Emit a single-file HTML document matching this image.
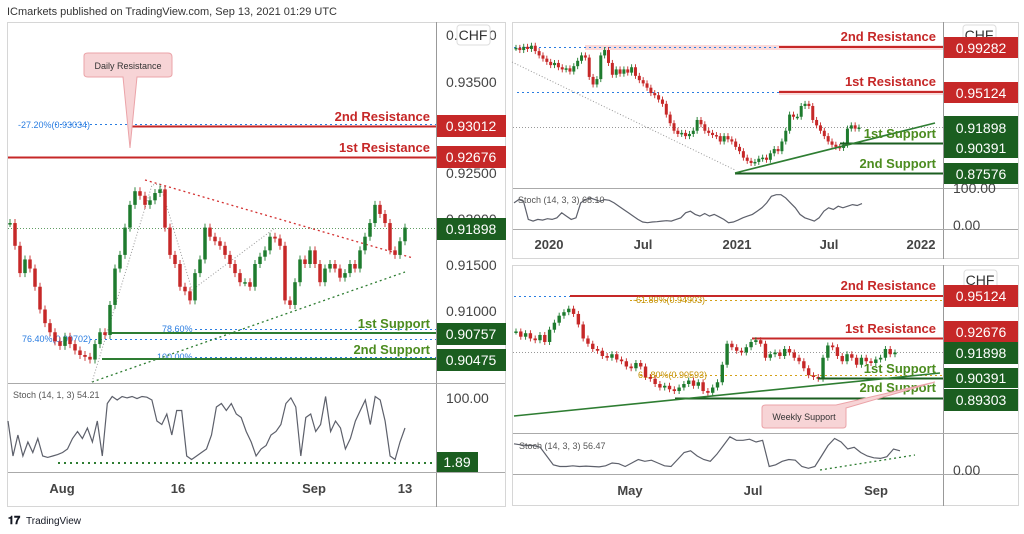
<!DOCTYPE html>
<html><head><meta charset="utf-8"><style>
html,body{margin:0;padding:0;background:#fff;width:1024px;height:534px;overflow:hidden}
svg{display:block;font-family:"Liberation Sans",sans-serif}
</style></head><body>
<svg id="c" width="1024" height="534" viewBox="0 0 1024 534">
<text x="7" y="15" font-size="11" fill="#333">ICmarkets published on TradingView.com, Sep 13, 2021 01:29 UTC</text>

<!-- LEFT PANEL -->
<g>
<rect x="7.5" y="22.5" width="498" height="484" fill="#fff" stroke="#d6d6d6"/>
<line x1="436.5" y1="22" x2="436.5" y2="507" stroke="#999"/>
<line x1="8" y1="383.5" x2="505" y2="383.5" stroke="#aaa"/>
<line x1="8" y1="472.5" x2="505" y2="472.5" stroke="#aaa"/>
<g font-size="14" fill="#444">
<text x="446" y="40">0.94000</text><text x="446" y="87">0.93500</text><text x="446" y="178">0.92500</text><text x="446" y="224">0.92000</text><text x="446" y="270">0.91500</text><text x="446" y="316">0.91000</text><text x="446" y="403">100.00</text>
</g>
<rect x="457" y="25" width="33" height="20" rx="3" fill="#fff" stroke="#ddd"/>
<text x="473" y="40" font-size="14" fill="#333" text-anchor="middle">CHF</text>
<line x1="55" y1="124.5" x2="436" y2="124.5" stroke="#2a7de1" stroke-dasharray="2,3"/>
<text x="18" y="128" font-size="9" fill="#2a7de1">-27.20%(0.93034)</text>
<line x1="128" y1="126.5" x2="436" y2="126.5" stroke="#c62828" stroke-width="2"/>
<line x1="8" y1="157.5" x2="436" y2="157.5" stroke="#c62828" stroke-width="2"/>
<text x="430" y="121" font-size="13" font-weight="bold" fill="#c62828" text-anchor="end">2nd Resistance</text>
<text x="430" y="152" font-size="13" font-weight="bold" fill="#c62828" text-anchor="end">1st Resistance</text>
<path d="M84,56 Q84,53 88,53 L168,53 Q172,53 172,57 L172,74 Q172,77 168,77 L137,77 L130,148 L123,77 L88,77 Q84,77 84,74 Z" fill="#f7d4d6" stroke="#eba3a8"/>
<text x="128" y="69" font-size="9" fill="#333" text-anchor="middle">Daily Resistance</text>
<line x1="8" y1="228.5" x2="436" y2="228.5" stroke="#2e7d32" stroke-dasharray="1,2" stroke-width="0.8"/>
<line x1="195" y1="329.5" x2="436" y2="329.5" stroke="#2a7de1" stroke-dasharray="2,3"/>
<text x="162" y="332" font-size="9" fill="#2a7de1">78.60%</text>
<line x1="90" y1="339.5" x2="436" y2="339.5" stroke="#2a7de1" stroke-dasharray="2,3"/>
<text x="22" y="342" font-size="9" fill="#2a7de1">76.40%(0.90702)</text>
<line x1="195" y1="357.5" x2="436" y2="357.5" stroke="#2a7de1" stroke-dasharray="2,3"/>
<text x="157" y="360" font-size="9" fill="#2a7de1">100.00%</text>
<line x1="111" y1="333" x2="436" y2="333" stroke="#2e7d32" stroke-width="2"/>
<line x1="102" y1="359" x2="436" y2="359" stroke="#2e7d32" stroke-width="2"/>
<text x="430" y="328" font-size="13" font-weight="bold" fill="#4c8c1f" text-anchor="end">1st Support</text>
<text x="430" y="354" font-size="13" font-weight="bold" fill="#4c8c1f" text-anchor="end">2nd Support</text>
<line x1="145" y1="180" x2="413" y2="258" stroke="#d32f2f" stroke-dasharray="2,3" stroke-width="1.3"/>
<line x1="92" y1="382" x2="405" y2="272" stroke="#2e7d32" stroke-dasharray="2,3" stroke-width="1.3"/>
<polyline points="92,382 152,185 160,184 192,290 275,228" fill="none" stroke="#999" stroke-dasharray="1,2"/>
<g id="lc"></g>
<line x1="58" y1="463" x2="436" y2="463" stroke="#2e7d32" stroke-dasharray="2,4" stroke-width="2"/>
<path id="ls" fill="none" stroke="#5d606b" stroke-width="1.2"/>
<text x="13" y="398" font-size="9" fill="#555">Stoch (14, 1, 3)  54.21</text>
<g font-size="14" fill="#fff">
<rect x="437" y="115" width="69" height="22" fill="#c62828"/><text x="471" y="131" text-anchor="middle">0.93012</text>
<rect x="437" y="146" width="69" height="22" fill="#c62828"/><text x="471" y="162" text-anchor="middle">0.92676</text>
<rect x="437" y="218" width="69" height="22" fill="#1b5e20"/><text x="471" y="234" text-anchor="middle">0.91898</text>
<rect x="437" y="323" width="69" height="22" fill="#1b5e20"/><text x="471" y="339" text-anchor="middle">0.90757</text>
<rect x="437" y="349" width="69" height="22" fill="#1b5e20"/><text x="471" y="365" text-anchor="middle">0.90475</text>
<rect x="437" y="452" width="41" height="20" fill="#1b5e20"/><text x="457" y="467" text-anchor="middle">1.89</text>
</g>
<g font-size="13" font-weight="bold" fill="#444" text-anchor="middle">
<text x="62" y="493">Aug</text><text x="178" y="493">16</text><text x="314" y="493">Sep</text><text x="405" y="493">13</text>
</g>
</g>

<!-- RIGHT TOP PANEL -->
<g>
<rect x="512.5" y="22.5" width="506" height="236" fill="#fff" stroke="#d6d6d6"/>
<line x1="943.5" y1="22" x2="943.5" y2="259" stroke="#999"/>
<line x1="513" y1="188.5" x2="1018" y2="188.5" stroke="#aaa"/>
<line x1="513" y1="229.5" x2="1018" y2="229.5" stroke="#aaa"/>
<g font-size="14" fill="#444"><text x="953" y="193">100.00</text><text x="953" y="230">0.00</text></g>
<rect x="963" y="25" width="33" height="20" rx="3" fill="#fff" stroke="#ddd"/>
<text x="979" y="40" font-size="14" fill="#333" text-anchor="middle">CHF</text>
<rect x="585" y="45" width="358" height="5" fill="#fbdada"/>
<line x1="514" y1="47.5" x2="779" y2="47.5" stroke="#2a7de1" stroke-dasharray="2,3"/>
<line x1="779" y1="47" x2="943" y2="47" stroke="#c62828" stroke-width="2"/>
<rect x="779" y="90" width="164" height="5" fill="#fbdada"/>
<line x1="517" y1="92.5" x2="779" y2="92.5" stroke="#2a7de1" stroke-dasharray="2,3"/>
<line x1="779" y1="92" x2="943" y2="92" stroke="#c62828" stroke-width="2"/>
<line x1="513" y1="127.5" x2="943" y2="127.5" stroke="#777" stroke-dasharray="1,2" stroke-width="0.7"/>
<line x1="512" y1="62" x2="735" y2="170" stroke="#999" stroke-dasharray="1,2"/>
<g id="wc"></g>
<line x1="840" y1="143.5" x2="943" y2="143.5" stroke="#1b5e20" stroke-width="2"/>
<line x1="735" y1="173.5" x2="943" y2="173.5" stroke="#1b5e20" stroke-width="2"/>
<line x1="735" y1="173" x2="935" y2="123" stroke="#2e7d32" stroke-width="1.6"/>
<text x="936" y="41" font-size="13" font-weight="bold" fill="#c62828" text-anchor="end">2nd Resistance</text>
<text x="936" y="86" font-size="13" font-weight="bold" fill="#c62828" text-anchor="end">1st Resistance</text>
<text x="936" y="138" font-size="13" font-weight="bold" fill="#4c8c1f" text-anchor="end">1st Support</text>
<text x="936" y="168" font-size="13" font-weight="bold" fill="#4c8c1f" text-anchor="end">2nd Support</text>
<path id="ws" fill="none" stroke="#5d606b" stroke-width="1.2"/>
<text x="518" y="203" font-size="9" fill="#555">Stoch (14, 3, 3)  68.10</text>
<g font-size="14" fill="#fff">
<rect x="944" y="37" width="74" height="21" fill="#c62828"/><text x="981" y="53" text-anchor="middle">0.99282</text>
<rect x="944" y="82" width="74" height="21" fill="#c62828"/><text x="981" y="98" text-anchor="middle">0.95124</text>
<rect x="944" y="116" width="74" height="42" fill="#1b5e20"/><text x="981" y="133" text-anchor="middle">0.91898</text><text x="981" y="153" text-anchor="middle">0.90391</text>
<rect x="944" y="163" width="74" height="21" fill="#1b5e20"/><text x="981" y="179" text-anchor="middle">0.87576</text>
</g>
<g font-size="13" font-weight="bold" fill="#444" text-anchor="middle">
<text x="549" y="249">2020</text><text x="643" y="249">Jul</text><text x="737" y="249">2021</text><text x="829" y="249">Jul</text><text x="921" y="249">2022</text>
</g>
</g>

<!-- RIGHT BOTTOM PANEL -->
<g>
<rect x="512.5" y="265.5" width="506" height="240" fill="#fff" stroke="#d6d6d6"/>
<line x1="943.5" y1="265" x2="943.5" y2="506" stroke="#999"/>
<line x1="513" y1="433.5" x2="1018" y2="433.5" stroke="#aaa"/>
<line x1="513" y1="474.5" x2="1018" y2="474.5" stroke="#aaa"/>
<text x="953" y="475" font-size="14" fill="#444">0.00</text>
<rect x="964" y="270" width="33" height="20" rx="3" fill="#fff" stroke="#ddd"/>
<text x="980" y="285" font-size="14" fill="#333" text-anchor="middle">CHF</text>
<line x1="514" y1="296.5" x2="570" y2="296.5" stroke="#2a7de1" stroke-dasharray="2,3"/>
<line x1="570" y1="296" x2="943" y2="296" stroke="#c62828" stroke-width="2"/>
<line x1="630" y1="300.5" x2="943" y2="300.5" stroke="#d4a017" stroke-dasharray="2,3"/>
<text x="633" y="303" font-size="9" fill="#c49000">-61.80%(0.94903)</text>
<line x1="752" y1="338.5" x2="943" y2="338.5" stroke="#c62828" stroke-width="2"/>
<line x1="513" y1="352.5" x2="943" y2="352.5" stroke="#777" stroke-dasharray="1,2" stroke-width="0.7"/>
<line x1="640" y1="375.5" x2="943" y2="375.5" stroke="#d4a017" stroke-dasharray="2,3"/>
<text x="638" y="378" font-size="9" fill="#c49000">61.80%(0.90593)</text>
<g id="dc"></g>
<line x1="818" y1="378.5" x2="943" y2="378.5" stroke="#1b5e20" stroke-width="2"/>
<line x1="675" y1="398.5" x2="943" y2="398.5" stroke="#1b5e20" stroke-width="2"/>
<line x1="514" y1="416" x2="940" y2="373" stroke="#2e7d32" stroke-width="1.6"/>
<text x="936" y="290" font-size="13" font-weight="bold" fill="#c62828" text-anchor="end">2nd Resistance</text>
<text x="936" y="333" font-size="13" font-weight="bold" fill="#c62828" text-anchor="end">1st Resistance</text>
<text x="936" y="373" font-size="13" font-weight="bold" fill="#4c8c1f" text-anchor="end">1st Support</text>
<text x="936" y="392" font-size="13" font-weight="bold" fill="#4c8c1f" text-anchor="end">2nd Support</text>
<path d="M766,405 L836,405 L935,382 L846,408 L846,425 Q846,428 843,428 L765,428 Q762,428 762,425 L762,408 Q762,405 766,405 Z" fill="#f7d4d6" stroke="#eba3a8"/>
<text x="804" y="420" font-size="9" fill="#333" text-anchor="middle">Weekly Support</text>
<line x1="820" y1="470" x2="915" y2="455" stroke="#2e7d32" stroke-dasharray="2,3" stroke-width="1.3"/>
<path id="ds" fill="none" stroke="#5d606b" stroke-width="1.2"/>
<text x="519" y="449" font-size="9" fill="#555">Stoch (14, 3, 3)  56.47</text>
<g font-size="14" fill="#fff">
<rect x="944" y="285" width="74" height="22" fill="#c62828"/><text x="981" y="301" text-anchor="middle">0.95124</text>
<rect x="944" y="321" width="74" height="21" fill="#c62828"/><text x="981" y="337" text-anchor="middle">0.92676</text>
<rect x="944" y="342" width="74" height="22" fill="#1b5e20"/><text x="981" y="358" text-anchor="middle">0.91898</text>
<rect x="944" y="368" width="74" height="20" fill="#1b5e20"/><text x="981" y="383" text-anchor="middle">0.90391</text>
<rect x="944" y="389" width="74" height="22" fill="#1b5e20"/><text x="981" y="405" text-anchor="middle">0.89303</text>
</g>
<g font-size="13" font-weight="bold" fill="#444" text-anchor="middle">
<text x="630" y="495">May</text><text x="753" y="495">Jul</text><text x="876" y="495">Sep</text>
</g>
</g>

<g>
<text x="8" y="524" font-size="11" font-weight="bold" fill="#131722">𝟏𝟕</text>
<text x="26" y="524" font-size="10" fill="#131722">TradingView</text>
</g>
</svg>
<script>
const leftCloses=[0.9195,0.917,0.914,0.9155,0.9145,0.9125,0.91,0.9085,0.9075,0.9065,0.906,0.907,0.9062,0.9055,0.905,0.9048,0.9045,0.9062,0.9075,0.9072,0.9105,0.9145,0.916,0.919,0.9215,0.923,0.9225,0.9215,0.922,0.9228,0.9232,0.919,0.916,0.915,0.9125,0.912,0.911,0.914,0.9155,0.919,0.918,0.9175,0.917,0.916,0.915,0.914,0.913,0.913,0.9125,0.915,0.9158,0.9165,0.918,0.9178,0.917,0.911,0.9105,0.913,0.9155,0.915,0.9165,0.915,0.913,0.9145,0.915,0.9145,0.9135,0.914,0.915,0.9145,0.9165,0.918,0.9195,0.9215,0.9205,0.9195,0.9165,0.916,0.9175,0.919];
const leftStoch=[60,10,40,10,30,15,35,10,8,10,12,15,20,35,45,35,50,30,60,10,85,95,90,95,93,95,92,95,94,90,60,55,70,40,75,75,10,5,10,15,20,40,80,85,75,85,70,65,45,30,10,20,25,40,45,55,85,93,80,10,65,70,45,55,95,45,60,50,20,35,60,75,90,55,95,90,60,10,5,30,50];
const weeklyCloses=[0.992,0.99,0.993,0.991,0.994,0.989,0.985,0.982,0.979,0.976,0.978,0.974,0.972,0.973,0.97,0.975,0.98,0.985,0.983,0.965,0.958,0.963,0.985,0.99,0.978,0.967,0.972,0.968,0.972,0.969,0.974,0.966,0.962,0.959,0.955,0.95,0.948,0.944,0.94,0.93,0.922,0.915,0.912,0.913,0.91,0.912,0.915,0.925,0.921,0.915,0.913,0.911,0.91,0.905,0.91,0.907,0.905,0.9,0.896,0.89,0.887,0.885,0.886,0.889,0.89,0.888,0.894,0.898,0.896,0.905,0.915,0.93,0.928,0.928,0.938,0.94,0.938,0.925,0.92,0.915,0.91,0.905,0.902,0.9,0.899,0.902,0.917,0.92,0.917,0.918];
const weeklyStoch=[70,80,75,20,15,20,18,22,20,25,40,30,20,25,70,80,85,80,75,80,78,70,60,50,40,30,20,12,10,12,13,15,16,15,20,25,40,45,35,30,38,30,35,28,20,10,12,18,25,30,35,45,55,70,90,95,95,85,70,55,35,25,20,15,25,45,55,50,60,55,60,65,62,68];
const dailyCloses=[0.931,0.928,0.93,0.927,0.926,0.929,0.925,0.932,0.936,0.94,0.942,0.944,0.941,0.935,0.927,0.924,0.921,0.92,0.917,0.916,0.918,0.915,0.914,0.911,0.91,0.913,0.911,0.905,0.904,0.901,0.899,0.9,0.898,0.897,0.899,0.901,0.903,0.9,0.902,0.897,0.896,0.899,0.902,0.912,0.924,0.922,0.92,0.919,0.922,0.925,0.926,0.924,0.916,0.918,0.919,0.917,0.921,0.919,0.916,0.914,0.91,0.906,0.905,0.904,0.916,0.923,0.922,0.917,0.914,0.918,0.916,0.912,0.916,0.914,0.913,0.915,0.916,0.921,0.918,0.919];
const dailyStoch=[75,72,70,70,65,40,15,10,10,12,10,11,10,9,12,20,18,10,20,30,25,28,20,12,10,30,50,55,40,30,25,45,70,95,85,85,88,80,85,10,15,25,30,28,10,5,10,40,70,90,80,60,65,50,40,35,33,38,60,55];

const NS='http://www.w3.org/2000/svg';
const yLeft=p=>82+(0.935-p)*9100;
const yWeekly=p=>47+(0.99282-p)*1076;
const yDaily=p=>296+(0.95124-p)*1752;
function xScale(x0,x1,n){return i=>x0+i*(x1-x0)/(n-1);}
function drawCandles(gid,closes,x0,x1,yf,bw,wk){
  const g=document.getElementById(gid);const xf=xScale(x0,x1,closes.length);
  closes.forEach((c,i)=>{
    const o=i?closes[i-1]:c;const up=c>=o;const col=up?'#1e7b2e':'#c62828';
    const x=xf(i);const yo=yf(o),yc=yf(c);const top=Math.min(yo,yc),bot=Math.max(yo,yc);
    const w=document.createElementNS(NS,'line');
    w.setAttribute('x1',x);w.setAttribute('x2',x);w.setAttribute('y1',top-wk);w.setAttribute('y2',bot+wk);
    w.setAttribute('stroke',col);w.setAttribute('stroke-width','0.9');
    
    
    g.appendChild(w);
    const r=document.createElementNS(NS,'rect');
    r.setAttribute('x',x-bw/2);r.setAttribute('y',top);r.setAttribute('width',bw);r.setAttribute('height',Math.max(1.5,bot-top));
    r.setAttribute('fill',col);
    
    
    g.appendChild(r);
  });
}
function drawStoch(id,vals,x0,x1,y0,h){
  const xf=xScale(x0,x1,vals.length);
  document.getElementById(id).setAttribute('d',vals.map((v,i)=>(i?'L':'M')+xf(i).toFixed(1)+','+(y0-v*h/100).toFixed(1)).join(''));
}
drawCandles('lc',leftCloses,10,405,yLeft,3.5,4);
drawCandles('wc',weeklyCloses,516,859,yWeekly,3,3);
drawCandles('dc',dailyCloses,516,895,yDaily,3.4,3);
drawStoch('ls',leftStoch,8,405,463,70);
drawStoch('ws',weeklyStoch,514,862,226,33);
drawStoch('ds',dailyStoch,514,900,470,35);
</script>
</body></html>
